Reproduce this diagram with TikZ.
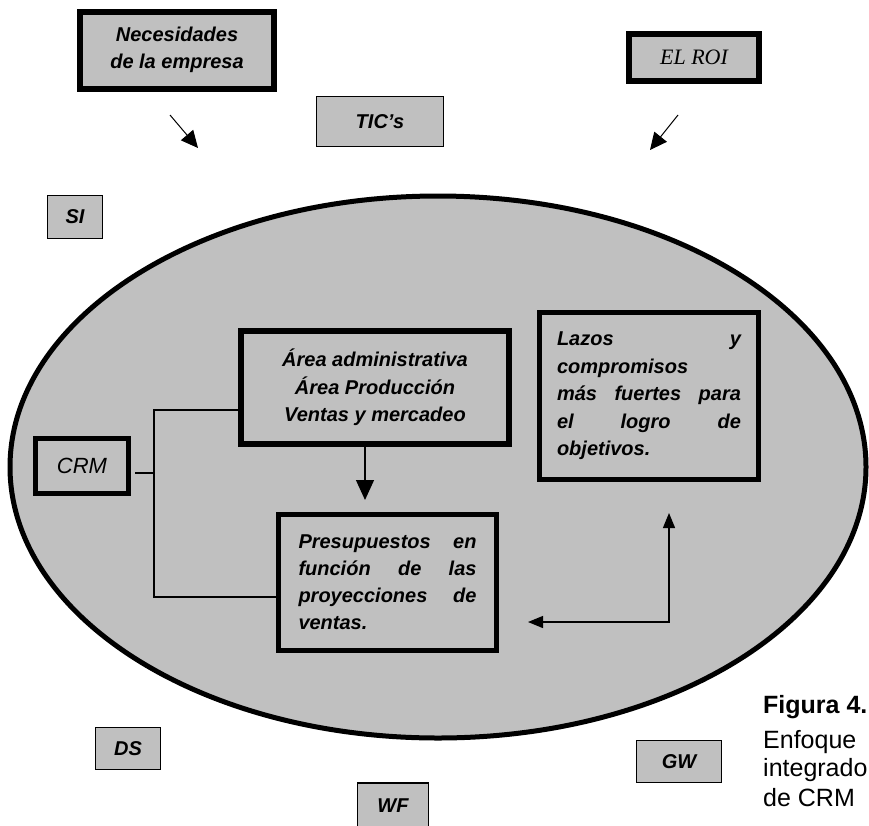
\documentclass[tikz,border=0pt]{standalone}
\usepackage{fontspec}
\setmainfont{Liberation Sans}
\newfontfamily\roifont{Liberation Serif}
\usetikzlibrary{arrows.meta}
\definecolor{boxgray}{HTML}{C0C0C0}
\tikzset{
  lab/.style={font=\fontsize{20}{27.5}\selectfont\bfseries\itshape},
  thickbox/.style={draw, fill=boxgray, line width=5pt, inner sep=0pt, lab},
  thinbox/.style={draw, fill=boxgray, line width=1.5pt, inner sep=0pt, lab},
  conn/.style={line width=1.3pt},
  bighead/.style={-{Triangle[length=20pt,width=18pt]}},
  smallhead/.style={{Triangle[length=15pt,width=12pt]}-{Triangle[length=15pt,width=12pt]}},
  inhead/.style={-{Triangle[length=17pt,width=16pt]}},
  caption/.style={anchor=base west, inner sep=0pt, font=\fontsize{25}{30}\selectfont},
}
\begin{document}
\begin{tikzpicture}[x=1pt,y=-1pt]
\useasboundingbox (0,0) rectangle (869,825);

% the enterprise as a whole
\draw[fill=boxgray, line width=5pt] (438,467) ellipse [x radius=428pt, y radius=271pt];

% outside influences
\node[thickbox, line width=6pt, minimum width=194pt, minimum height=77pt, align=center]
  (nec) at (177,50) {Necesidades\\de la empresa};
\node[thinbox, minimum width=127pt, minimum height=50pt] (tic) at (380,121.5) {TIC's};
\node[thickbox, line width=6pt, minimum width=130pt, minimum height=47pt,
  font=\fontsize{22}{26}\roifont\itshape] (roi) at (694,57.5) {EL ROI};
\node[thinbox, minimum width=55pt, minimum height=43pt] (si) at (75,217) {SI};
\node[thinbox, minimum width=65pt, minimum height=42pt] (ds) at (128,748.5) {DS};
\node[thinbox, minimum width=85pt, minimum height=42pt] (gw) at (679,761.5) {GW};
\node[thinbox, minimum width=71pt, minimum height=46pt] (wf) at (393,806) {WF};

\coordinate (necA) at (170,115);
\coordinate (necB) at (198,148);
\coordinate (roiA) at (678,115);
\coordinate (roiB) at (650,150);
\draw[conn, line width=1pt, inhead] (necA) -- (necB);
\draw[conn, line width=1pt, inhead] (roiA) -- (roiB);

% inside the ellipse
\node[thickbox, minimum width=93pt, minimum height=55pt, font=\fontsize{22}{24}\selectfont\itshape]
  (crm) at (82,466) {CRM};
\node[thickbox, line width=5.5pt, minimum width=268pt, minimum height=113pt, align=center]
  (area) at (375,387.5) {Área administrativa\\Área Producción\\Ventas y mercadeo};
\node[thickbox, minimum width=219pt, minimum height=167pt, text width=184pt, align=left]
  (lazos) at (649,396)
  {Lazos\hfill y\\compromisos\\más\hfill fuertes\hfill para\\el\hfill logro\hfill de\\objetivos.};
\node[thickbox, minimum width=218pt, minimum height=136pt, text width=178pt, align=left,
  font=\fontsize{20}{27}\selectfont\bfseries\itshape]
  (pres) at (387.5,582.5)
  {Presupuestos\hfill en\\función\hfill de\hfill las\\proyecciones\hfill de\\ventas.};

% CRM joins both departments
\coordinate (j) at (154,473);
\path (j -| crm.east) coordinate (crmj);
\draw[conn] ([xshift=4pt]crmj) -- (j);
\draw[conn] ([yshift=-22.5pt]area.west) -| (j) |- ([yshift=-14.5pt]pres.west);

% departments feed the budget
\coordinate (areatip) at (365,500);
\draw[conn, bighead] (area.south -| areatip) -- (areatip);

% budget and commitments
\coordinate (uptip) at (669,513);
\coordinate (lefttip) at (528,622);
\draw[conn, smallhead] (uptip) |- (lefttip);

% caption
\node[caption, font=\fontsize{25}{30}\selectfont\bfseries] (cap1) at (763,713) {Figura 4.};
\node[caption] (cap2) at (763,748) {Enfoque};
\node[caption] (cap3) at (763,776) {integrado};
\node[caption] (cap4) at (763,806) {de CRM};
\end{tikzpicture}
\end{document}
